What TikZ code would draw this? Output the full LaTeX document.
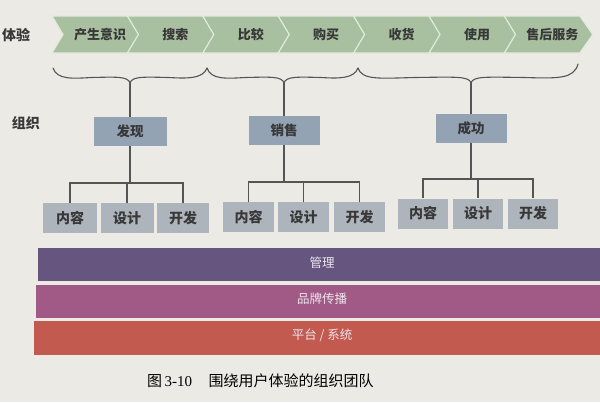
\documentclass[tikz,border=0pt]{standalone}
\usepackage{fontspec}
\setmainfont{Noto Sans CJK SC}
\newfontfamily\lserif{Liberation Serif}
\definecolor{paper}{HTML}{ECEAE5}
\definecolor{chevfill}{HTML}{A8C0A0}
\definecolor{chevline}{HTML}{E2EBDC}
\definecolor{orgfill}{HTML}{93A3B4}
\definecolor{leaffill}{HTML}{ADB4BC}
\definecolor{linegray}{HTML}{555555}
\definecolor{txt}{HTML}{383838}
\definecolor{bandA}{HTML}{65557F}
\definecolor{bandB}{HTML}{A05A85}
\definecolor{bandC}{HTML}{C25A4F}
\definecolor{bandtxt}{HTML}{EDE4EE}
\begin{document}
\begin{tikzpicture}[x=1pt,y=-1pt,
  conn/.style={draw=linegray,line width=1.1pt},
  chev/.style={fill=chevfill,draw=chevline,line width=1.2pt,line join=miter},
  chevtext/.style={font=\fontsize{13}{14}\selectfont\bfseries,text=txt,inner sep=0pt},
  sidelabel/.style={font=\fontsize{14}{15}\selectfont\bfseries,text=txt,inner sep=0pt},
  orgbox/.style={fill=orgfill,minimum width=#1pt,minimum height=29pt,inner sep=0pt,font=\fontsize{13.5}{14}\selectfont\bfseries,text=txt},
  leafbox/.style={fill=leaffill,minimum width=#1pt,minimum height=30pt,inner sep=0pt,font=\fontsize{14}{15}\selectfont\bfseries,text=txt},
  band/.style={font=\fontsize{12.5}{13}\selectfont,text=bandtxt,inner sep=0pt},
  bracestyle/.style={draw=linegray,line width=1.1pt,line cap=round}
]
\fill[paper] (0,0) rectangle (600,402);
\useasboundingbox (0,0) rectangle (600,402);

% chevrons
\foreach \t [count=\i from 0] in {产生意识,搜索,比较,购买,收货,使用,售后服务} {
  \pgfmathsetmacro\L{52+75.4*\i}
  \filldraw[chev] (\L,16) -- ({\L+75.4},16) -- ({\L+88.4},34.5) -- ({\L+75.4},53) -- (\L,53) -- ({\L+11},34.5) -- cycle;
  \node[chevtext] (c\i) at ({\L+48},34.5) {\t};
}
\node[sidelabel] (tiyan) at (16,35) {体验};
\node[sidelabel] (zuzhi) at (26,123) {组织};

% braces
\foreach \a/\m/\b/\e [count=\k] in {53/130/207/68, 207/284/358/68, 358/471/578/64} {
  \draw[bracestyle] (\a,68) .. controls ({\a+4},80) and ({\a+20},78.5) .. ({(\a+\m)/2},77.5)
     .. controls ({\m-15},77) and ({\m-2},76) .. (\m,83)
     .. controls ({\m+2},76) and ({\m+15},77) .. ({(\m+\b)/2},77.5)
     .. controls ({\b-20},78.5) and ({\b-4},79) .. (\b,\e);
  \coordinate (tip\k) at (\m,83);
}

% organisation boxes
\node[orgbox=73] (fx) at (130,131.5) {发现};
\node[orgbox=71] (xs) at (284,130.5) {销售};
\node[orgbox=71] (cg) at (471,128.5) {成功};

% leaves
\node[leafbox=54] (l11) at (70,218) {内容};
\node[leafbox=53] (l12) at (127,218) {设计};
\node[leafbox=52] (l13) at (183,218) {开发};
\node[leafbox=51] (l21) at (248.5,217) {内容};
\node[leafbox=51] (l22) at (303.5,217) {设计};
\node[leafbox=51] (l23) at (359.5,217) {开发};
\node[leafbox=50] (l31) at (423,213.5) {内容};
\node[leafbox=50] (l32) at (478,213.5) {设计};
\node[leafbox=50] (l33) at (533,213.5) {开发};

\coordinate (bus1) at (0,183);
\coordinate (bus2) at (0,182);
\coordinate (bus3) at (0,179);

% connectors
\draw[conn] (tip1) -- (tip1 |- fx.north);
\draw[conn] (tip2) -- (tip2 |- xs.north);
\draw[conn] (tip3) -- (tip3 |- cg.north);

\draw[conn] (fx.south) -- (fx.south |- bus1);
\draw[conn] (l11.north) -- (l11.north |- bus1) -- (l13.north |- bus1) -- (l13.north);
\draw[conn] (l12.north) -- (l12.north |- bus1);

\draw[conn] (xs.south) -- (xs.south |- bus2);
\draw[conn] (l21.north) -- (l21.north |- bus2) -- (l23.north |- bus2) -- (l23.north);
\draw[conn] (l22.north) -- (l22.north |- bus2);

\draw[conn] (cg.south) -- (cg.south |- bus3);
\draw[conn] (l31.north) -- (l31.north |- bus3) -- (l33.north |- bus3) -- (l33.north);
\draw[conn] (l32.north) -- (l32.north |- bus3);

% bands
\fill[bandA] (38,248) rectangle (602,281);
\fill[bandB] (36,285) rectangle (602,318);
\fill[bandC] (34,321) rectangle (602,355);
\node[band] (guanli) at (322,263) {管理};
\node[band] (pinpai) at (322,299) {品牌传播};
\node[band] (pingtai) at (322,335) {平台 / 系统};

% caption
\node[anchor=west,inner sep=0pt,text=black,font=\fontsize{15}{16}\selectfont] (cap) at (147,381)
  {图\,{\lserif 3-10}\hspace{1.1em}围绕用户体验的组织团队};
\end{tikzpicture}
\end{document}
